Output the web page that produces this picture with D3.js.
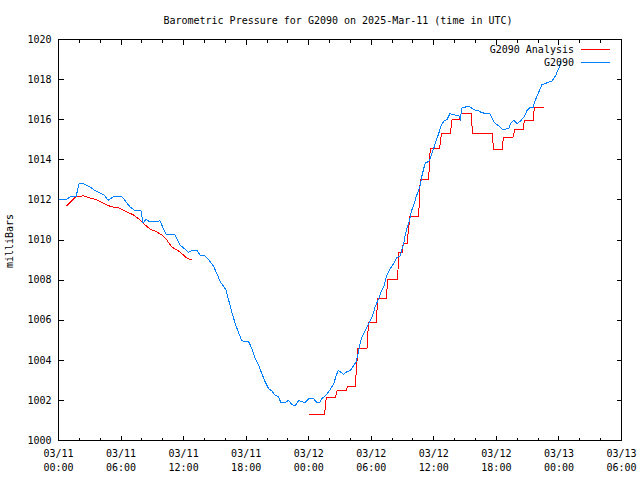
<!DOCTYPE html>
<html><head><meta charset="utf-8">
<script src="https://cdn.jsdelivr.net/npm/d3@7"></script>
<style>
body{margin:0;background:#fff}
svg{display:block}
text{font-family:"DejaVu Sans Mono",monospace;font-size:10px;fill:#000}
</style>
</head><body>
<svg id="c" width="640" height="480"></svg>
<script>
// ---------- data ----------
const startTime = "2025-03-11T00:00:00Z";
const spanHours = 54;
const titleText = "Barometric Pressure for G2090 on 2025-Mar-11 (time in UTC)";
const yLabel = "milliBars";
const seriesNames = ["G2090 Analysis", "G2090"];
const seriesColors = ["#ff0000", "#0080ff"];
const yTicks = [1000,1002,1004,1006,1008,1010,1012,1014,1016,1018,1020];
const xMajorHours = [0,6,12,18,24,30,36,42,48,54];
const xTickDates = ["03/11","03/11","03/11","03/11","03/12","03/12","03/12","03/12","03/13","03/13"];
const xTickTimes = ["00:00","06:00","12:00","18:00","00:00","06:00","12:00","18:00","00:00","06:00"];

// observed station pressure (hours since start, mbar)
const obsHours = [0,0.72,1.10,1.68,1.97,2.26,2.64,3.02,3.50,3.98,
 4.37,4.75,5.23,6.10,6.48,6.86,7.25,7.54,7.92,8.11,
 8.40,8.78,9.74,10.03,10.37,11.18,11.38,11.66,12.24,12.43,
 12.82,13.30,13.58,13.92,14.21,14.54,14.88,15.17,15.50,15.84,
 16.08,16.32,16.61,16.94,17.28,17.57,17.76,18.24,18.53,18.86,
 19.20,19.49,19.82,20.16,20.45,20.78,21.12,21.31,21.74,22.08,
 22.37,22.70,23.04,23.38,23.66,24.00,24.48,24.77,25.06,25.25,
 25.58,25.92,26.06,26.40,26.64,26.83,27.02,27.36,27.65,27.98,
 28.32,28.56,28.80,28.99,29.23,29.42,29.76,30.10,30.38,30.72,
 31.01,31.25,31.49,31.82,32.16,32.45,32.78,32.93,33.12,33.26,
 33.41,33.60,33.74,33.89,34.13,34.32,34.56,34.70,34.85,35.04,
 35.18,35.52,35.66,35.81,36.00,36.14,36.48,36.67,36.96,37.25,
 37.54,37.92,38.40,38.54,38.69,39.02,39.36,39.84,40.32,40.61,
 41.09,41.42,41.71,41.90,42.24,42.62,42.86,43.20,43.39,43.68,
 43.97,44.30,44.64,44.93,45.26,45.50,45.74,46.08,46.37,46.80,
 47.33,47.66,48.00,48.19];
const obsValues = [1012.0,1012.0,1012.15,1012.15,1012.8,1012.85,1012.75,1012.65,1012.47,1012.35,
 1012.25,1011.98,1012.15,1012.15,1011.9,1011.65,1011.5,1011.45,1011.45,1010.85,
 1011.03,1010.9,1010.95,1010.6,1010.25,1010.25,1010.05,1009.75,1009.5,1009.38,
 1009.48,1009.48,1009.25,1009.25,1009.13,1008.93,1008.68,1008.35,1007.93,1007.68,
 1007.5,1007.0,1006.43,1005.85,1005.35,1005.0,1004.93,1004.93,1004.6,1004.1,
 1003.75,1003.35,1002.93,1002.58,1002.48,1002.25,1002.18,1001.9,1001.9,1002.0,
 1001.8,1001.73,1002.0,1001.93,1001.9,1002.08,1002.08,1001.9,1001.9,1002.08,
 1002.23,1002.43,1002.55,1002.83,1003.25,1003.48,1003.43,1003.3,1003.43,1003.48,
 1003.75,1003.93,1004.5,1005.0,1005.3,1005.5,1005.83,1006.18,1006.68,1007.08,
 1007.5,1007.75,1008.25,1008.58,1008.83,1009.13,1009.2,1009.5,1009.83,1010.25,
 1010.58,1010.83,1011.18,1011.5,1011.83,1012.18,1012.5,1012.75,1013.18,1013.58,
 1013.83,1013.93,1014.08,1014.33,1014.58,1014.83,1015.33,1015.68,1015.93,1016.0,
 1016.3,1016.25,1016.2,1016.03,1016.58,1016.63,1016.68,1016.5,1016.43,1016.35,
 1016.3,1016.28,1015.93,1015.8,1015.7,1015.5,1015.53,1015.58,1015.83,1015.98,
 1015.8,1015.93,1016.13,1016.45,1016.63,1016.58,1016.98,1017.4,1017.75,1017.83,
 1017.93,1018.18,1018.58,1018.93];

// analysis, first segment (hours, mbar)
const anaEarlyHours = [0.79,1.68,2.38,3.02,3.67,4.63,5.11,5.74,6.38,7.18,7.82,8.30,8.78,9.43,9.91,10.39,10.87,11.66,12.31,12.79];
const anaEarlyValues = [1011.7,1012.17,1012.2,1012.1,1012.0,1011.75,1011.65,1011.62,1011.45,1011.25,1011.0,1010.75,1010.55,1010.4,1010.25,1010.0,1009.65,1009.4,1009.1,1009.0];

// analysis, stepped segment: each step holds a value from start to end hour
const stepStart = [24.0,25.68,26.71,27.72,28.72,29.74,30.62,31.58,32.64,33.07,33.70,34.70,35.66,36.72,37.75,38.61,39.72,41.74,42.67,43.76,44.69,45.65];
const stepEnd   = [25.52,26.54,27.60,28.46,29.59,30.48,31.44,32.52,32.95,33.43,34.54,35.50,36.56,37.58,38.48,39.57,41.59,42.55,43.60,44.56,45.52,46.61];
const stepValue = [1001.3,1002.13,1002.47,1002.7,1004.58,1005.9,1007.1,1008.03,1009.37,1009.83,1011.15,1013.03,1014.58,1015.3,1016.03,1016.3,1015.33,1014.5,1015.13,1015.53,1015.95,1016.63];

// ---------- drawing ----------
const svg = d3.select("#c");
const t0 = new Date(startTime);
const hToDate = h => new Date(t0.getTime() + h * 3600e3);

const L = 58.5, R = 621.5, T = 39.5, B = 440.5;
const x = d3.scaleUtc().domain([t0, hToDate(spanHours)]).range([L, R]);
const y = d3.scaleLinear().domain([1000, 1020]).range([B, T]);

const allTicks = x.ticks(d3.utcHour.every(2));
const majorDates = xMajorHours.map(hToDate);
const isMajor = d => xMajorHours.includes(Math.round((d - t0) / 3600e3));
const minorDates = allTicks.filter(d => !isMajor(d));

function styleAxis(g) {
  g.select(".domain").remove();
  g.selectAll("line").attr("stroke", "#000").attr("shape-rendering", "crispEdges");
}

// bottom
svg.append("g").attr("transform", `translate(0,${B})`)
  .call(d3.axisBottom(x).tickValues(majorDates).tickSize(-5).tickFormat("").offset(0))
  .call(styleAxis);
svg.append("g").attr("transform", `translate(0,${B})`)
  .call(d3.axisBottom(x).tickValues(minorDates).tickSize(-3).tickFormat("").offset(0))
  .call(styleAxis);
// top
svg.append("g").attr("transform", `translate(0,${T})`)
  .call(d3.axisTop(x).tickValues(majorDates).tickSize(-5).tickFormat("").offset(0))
  .call(styleAxis);
svg.append("g").attr("transform", `translate(0,${T})`)
  .call(d3.axisTop(x).tickValues(minorDates).tickSize(-3).tickFormat("").offset(0))
  .call(styleAxis);
// left
const gl = svg.append("g").attr("transform", `translate(${L},0)`)
  .call(d3.axisLeft(y).tickValues(yTicks).tickSize(-5).tickPadding(7).tickFormat(d3.format("d")).offset(0))
  .call(styleAxis);
gl.selectAll("text").attr("font-family", null).attr("font-size", null).attr("fill", "#000");
// right
svg.append("g").attr("transform", `translate(${R},0)`)
  .call(d3.axisRight(y).tickValues(yTicks).tickSize(-5).tickFormat("").offset(0))
  .call(styleAxis);

// x labels (two lines)
const xl = svg.append("g");
majorDates.forEach((d, i) => {
  const t = xl.append("text").attr("text-anchor", "middle");
  t.append("tspan").attr("x", x(d)).attr("y", 457).text(xTickDates[i]);
  t.append("tspan").attr("x", x(d)).attr("y", 471).text(xTickTimes[i]);
});

// frame
svg.append("rect").attr("x", L).attr("y", T).attr("width", R - L).attr("height", B - T)
  .attr("fill", "none").attr("stroke", "#000").attr("shape-rendering", "crispEdges");

// lines
const line = d3.line().x(d => x(hToDate(d[0]))).y(d => y(d[1]));
const obs = obsHours.map((h, i) => [h, obsValues[i]]);
const anaEarly = anaEarlyHours.map((h, i) => [h, anaEarlyValues[i]]);
const anaSteps = [];
stepStart.forEach((s, i) => { anaSteps.push([s, stepValue[i]]); anaSteps.push([stepEnd[i], stepValue[i]]); });

const plot = svg.append("g").attr("fill", "none").attr("stroke-width", 1)
  .attr("shape-rendering", "crispEdges");
plot.append("path").attr("d", line(anaEarly)).attr("stroke", seriesColors[0]);
plot.append("path").attr("d", line(anaSteps)).attr("stroke", seriesColors[0]);
plot.append("path").attr("d", line(obs)).attr("stroke", seriesColors[1]);

// title & y label
svg.append("text").attr("x", 338).attr("y", 24).attr("text-anchor", "middle").text(titleText);
svg.append("text").attr("transform", "translate(13,241) rotate(-90)").attr("text-anchor", "middle").text(yLabel);

// legend
const legY = [49.5, 62.5];
seriesNames.forEach((n, i) => {
  svg.append("text").attr("x", 574).attr("y", legY[i]).attr("dy", "0.35em").attr("text-anchor", "end").text(n);
  svg.append("line").attr("x1", 581).attr("x2", 610).attr("y1", legY[i]).attr("y2", legY[i])
    .attr("stroke", seriesColors[i]).attr("shape-rendering", "crispEdges");
});
</script>
</body></html>
